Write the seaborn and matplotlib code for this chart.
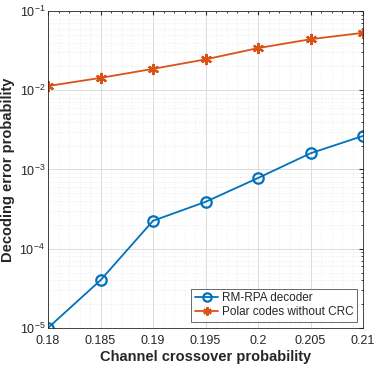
import numpy as np
import seaborn as sns
import matplotlib.pyplot as plt
from matplotlib.ticker import LogLocator, FixedLocator

crossover = [0.18, 0.185, 0.19, 0.195, 0.2, 0.205, 0.21]
rm_rpa = [1.0e-5, 4.0e-5, 2.25e-4, 3.9e-4, 7.8e-4, 1.6e-3, 2.65e-3]
polar_no_crc = [1.13e-2, 1.43e-2, 1.86e-2, 2.45e-2, 3.4e-2, 4.4e-2, 5.3e-2]
xtick_labels = ['0.18', '0.185', '0.19', '0.195', '0.2', '0.205', '0.21']

sns.set_style('white')
plt.rcParams['font.family'] = ['Liberation Sans', 'DejaVu Sans']

fig, ax = plt.subplots(figsize=(3.75, 3.66), dpi=100)
fig.subplots_adjust(left=0.128, right=0.968, top=0.97, bottom=0.104)

# MATLAB-ish: open circles and asterisks
series = [('RM-RPA decoder', rm_rpa, '#0072BD', 'o', 7.5),
          ('Polar codes without CRC', polar_no_crc, '#D95319', (6, 2, 0), 8)]
for name, vals, col, mk, ms in series:
    sns.lineplot(x=crossover, y=vals, ax=ax, color=col, linewidth=1.3,
                 label=name, linestyle='-')
    line = ax.get_lines()[-1]
    line.set_marker(mk)
    line.set_markersize(ms)
    line.set_markerfacecolor('none')
    line.set_markeredgecolor(col)
    line.set_markeredgewidth(1.6)

ax.set_yscale('log')
ax.set_xlim(0.18, 0.21)
ax.set_ylim(1e-5, 1e-1)
ax.xaxis.set_major_locator(FixedLocator(crossover))
ax.set_xticklabels(xtick_labels)
ax.xaxis.set_minor_locator(FixedLocator(np.arange(0.18, 0.2101, 0.001)))
ax.yaxis.set_major_locator(LogLocator(base=10, numticks=10))
ax.yaxis.set_minor_locator(LogLocator(base=10, subs=np.arange(2, 10), numticks=10))

ax.grid(True, which='major', color='#dcdcdc', linewidth=0.7)
ax.grid(True, which='minor', color='#e6e6e6', linewidth=0.5, linestyle=':')
ax.set_axisbelow(True)

ax.tick_params(axis='both', which='major', labelsize=9, colors='#262626',
               direction='in', length=3, top=True, right=True)
ax.tick_params(axis='x', which='major', pad=5)
ax.tick_params(axis='y', which='major', pad=2)
ax.tick_params(axis='both', which='minor', direction='in', length=1.5,
               top=True, right=True)
for s in ax.spines.values():
    s.set_color('#262626')
    s.set_linewidth(0.6)

ax.set_xlabel('Channel crossover probability', fontsize=10.5,
              fontweight='bold', color='#262626', labelpad=2)
ax.set_ylabel('Decoding error probability', fontsize=10.5,
              fontweight='bold', color='#262626', labelpad=3)

handles = ax.get_lines()[-2:]
leg = ax.legend(handles=handles, labels=[s[0] for s in series],
                loc='lower right', fontsize=8.5, frameon=True, fancybox=False,
                edgecolor='#262626', borderpad=0.3, labelspacing=0.2,
                handlelength=2.0, handletextpad=0.3, borderaxespad=0.5)
leg.get_frame().set_linewidth(0.6)
for h in leg.legend_handles:
    h.set_markersize(6)

fig.savefig('out.png', dpi=100)
